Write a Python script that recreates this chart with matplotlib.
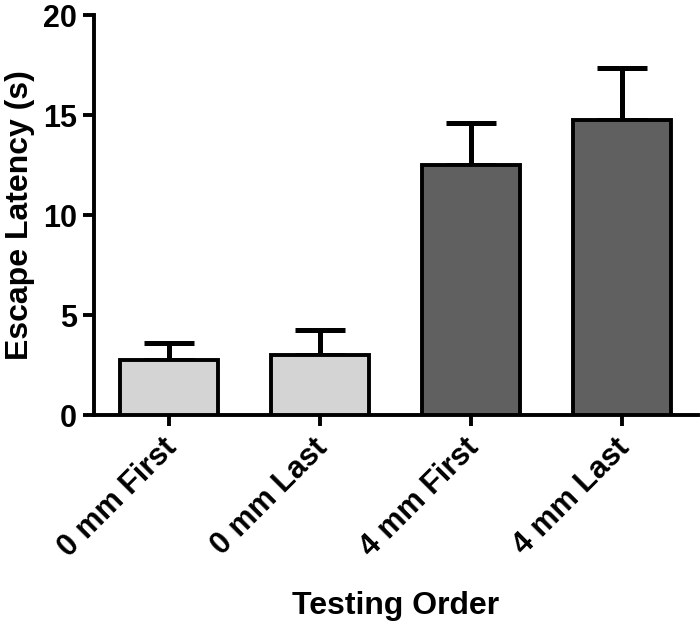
import matplotlib
matplotlib.use("Agg")
import matplotlib.pyplot as plt
import matplotlib.transforms as mtransforms

categories = ["0 mm First", "0 mm Last", "4 mm First", "4 mm Last"]
means = [2.75, 3.0, 12.5, 14.75]
errors = [0.85, 1.25, 2.1, 2.6]
colors = ["#d4d4d4", "#d4d4d4", "#606060", "#606060"]
yticks = [0, 5, 10, 15, 20]

plt.rcParams['font.family'] = ['Liberation Sans', 'DejaVu Sans']
plt.rcParams['font.weight'] = 'bold'

fig = plt.figure(figsize=(7, 6.28), dpi=100)
ax = fig.add_axes([0.134, 0.339, 0.863, 0.637])

lw = 2.8
x = list(range(len(categories)))
ax.bar(x, means, width=0.65, color=colors, edgecolor="black", linewidth=lw, zorder=3)
ax.errorbar(x, means, yerr=[[0]*len(errors), errors], fmt="none", ecolor="black",
            elinewidth=lw+0.8, capsize=18, capthick=lw+0.8, zorder=2)

ax.set_xlim(-0.5, 3.5)
ax.set_ylim(0, 20)
ax.set_yticks(yticks)
ax.set_xticks(x)
ax.set_xticklabels([""] * len(categories))
ax.set_yticklabels([str(t) for t in yticks], fontsize=22, fontweight="bold")

# rotated category labels placed under each tick
offset = mtransforms.ScaledTranslation(-8/100, -18/100, fig.dpi_scale_trans)
for xi, c in zip(x, categories):
    ax.text(xi, 0, c, transform=ax.get_xaxis_transform() + offset,
            rotation=45, ha="right", va="top", rotation_mode="anchor",
            fontsize=22, fontweight="bold", clip_on=False)

ax.spines['top'].set_visible(False)
ax.spines['right'].set_visible(False)
for s in ['left', 'bottom']:
    ax.spines[s].set_linewidth(lw)
ax.tick_params(axis='both', width=lw, length=8, direction='out')
ax.tick_params(axis='y', pad=4)
ax.set_ylabel("Escape Latency (s)", fontsize=23, fontweight="bold", labelpad=6)
ax.set_xlabel("Testing Order", fontsize=23, fontweight="bold", va="center")
ax.xaxis.set_label_coords(0.5, -0.478)

fig.savefig("out.png", dpi=100)
